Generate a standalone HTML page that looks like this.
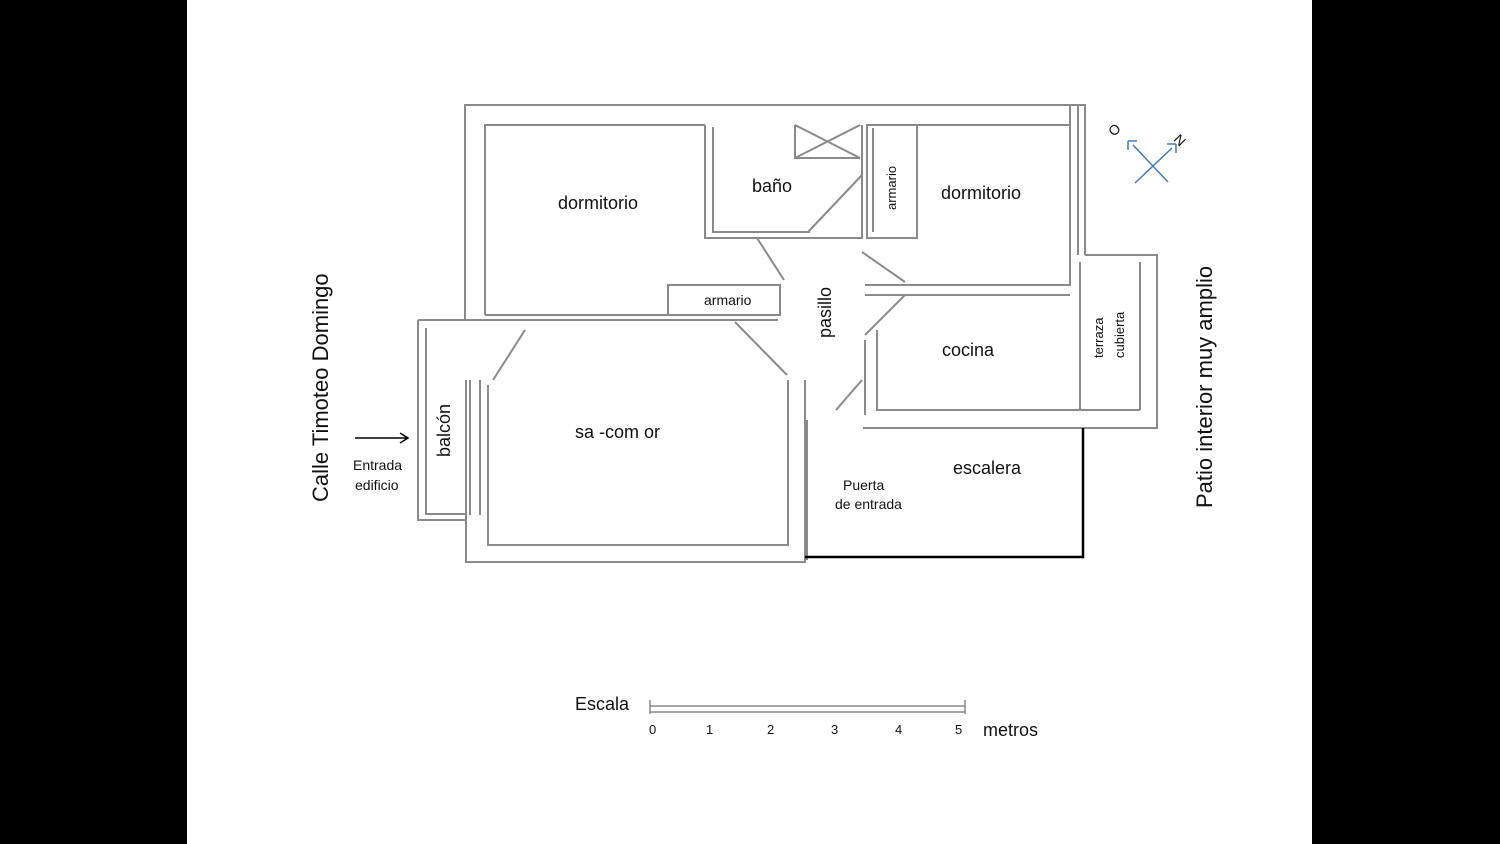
<!DOCTYPE html>
<html><head><meta charset="utf-8"><style>
body{margin:0;width:1500px;height:844px;overflow:hidden;background:#000}
svg{display:block}
text{font-family:"Liberation Sans",sans-serif;fill:#111}
</style></head><body>
<svg width="1500" height="844" viewBox="0 0 1500 844">
<rect x="0" y="0" width="1500" height="844" fill="#000"/>
<rect x="187" y="0" width="1125" height="844" fill="#fff"/>
<g fill="none" stroke="#8a8a8a" stroke-width="2">
<!-- outer top/left -->
<path d="M465 320 V105 H1085 V255"/>
<path d="M485 315 V125 H705"/>
<path d="M485 315 H780 V285 H668 V315"/>
<!-- bath -->
<path d="M705 125 V238 H862 V125"/>
<path d="M713 127 V232 H810"/>
<path d="M795 125 V158 H860 M795 125 L860 158 M795 158 L860 125"/>
<!-- armario right -->
<path d="M867 125 V238 H917 V125 Z M873 128 V232"/>
<path d="M917 125 H1070 V285 H865 M1070 125 V105 M1078 105 V255"/>
<!-- terraza -->
<path d="M1085 255 H1157 V428 H1085 M1140 262 V410 M1080 262 V410 H1140"/>
<!-- cocina -->
<path d="M865 295 H1070 M877 330 V410 H1080 M865 340 V415 M863 428 H1085"/>
<!-- salon -->
<path d="M418 320 H778 M418 320 V520 H466 M426 328 V514 H466"/>
<path d="M466 380 V562 H805 V380 M488 385 V545 H788 V380"/>
<path d="M470 380 V515 M480 380 V515 M787 375 L735 322 M493 380 L525 330 M807 420 V560"/>
<!-- doors -->
<path d="M862 175 L808 232 M757 238 L784 280 M905 282 L862 252 M865 335 L905 295 M836 410 L862 380"/>
</g>
<path d="M805 557 H1083 V428" fill="none" stroke="#000" stroke-width="2.5"/>
<!-- arrow -->
<path d="M355 438 H408 M400 433 L408 438 L400 443" fill="none" stroke="#000" stroke-width="1.5"/>
<!-- compass -->
<g stroke="#4a7aa8" stroke-width="1.5" fill="none">
<path d="M1133 145 L1168 182 M1135 183 L1172 148 M1128 141 L1128 150 M1128 141 L1137 141 M1176 144 L1167 144 M1176 144 L1176 153"/>
</g>
<text x="1109" y="135" font-size="14" transform="rotate(-45 1114 130)">O</text>
<text x="1175" y="145" font-size="14" transform="rotate(45 1180 140)">N</text>
<!-- labels -->
<g font-size="18">
<text x="558" y="209">dormitorio</text>
<text x="752" y="192">baño</text>
<text x="941" y="199">dormitorio</text>
<text x="942" y="356">cocina</text>
<text x="953" y="474">escalera</text>
<text x="575" y="438">sa   -com   or</text>
<text x="831" y="338" transform="rotate(-90 831 338)">pasillo</text>
<text x="450" y="457" transform="rotate(-90 450 457)">balcón</text>
</g>
<text x="704" y="305" font-size="14">armario</text>
<text x="896" y="210" font-size="13" transform="rotate(-90 896 210)">armario</text>
<text x="1103" y="358" font-size="13" transform="rotate(-90 1103 358)">terraza</text>
<text x="1124" y="358" font-size="13" transform="rotate(-90 1124 358)">cubierta</text>
<text x="843" y="490" font-size="14">Puerta</text>
<text x="835" y="509" font-size="14">de entrada</text>
<text x="353" y="470" font-size="14">Entrada</text>
<text x="355" y="490" font-size="14">edificio</text>
<text x="328" y="502" font-size="22" transform="rotate(-90 328 502)">Calle Timoteo Domingo</text>
<text x="1212" y="508" font-size="22" transform="rotate(-90 1212 508)">Patio interior muy amplio</text>
<text x="575" y="710" font-size="18">Escala</text>
<path d="M650 706 H965 M650 712 H965 M650 700 V714 M965 700 V714" stroke="#888" fill="none" stroke-width="1.5"/>
<g font-size="13">
<text x="649" y="734">0</text><text x="706" y="734">1</text><text x="767" y="734">2</text>
<text x="831" y="734">3</text><text x="895" y="734">4</text><text x="955" y="734">5</text>
</g>
<text x="983" y="736" font-size="18">metros</text>
</svg>
</body></html>
